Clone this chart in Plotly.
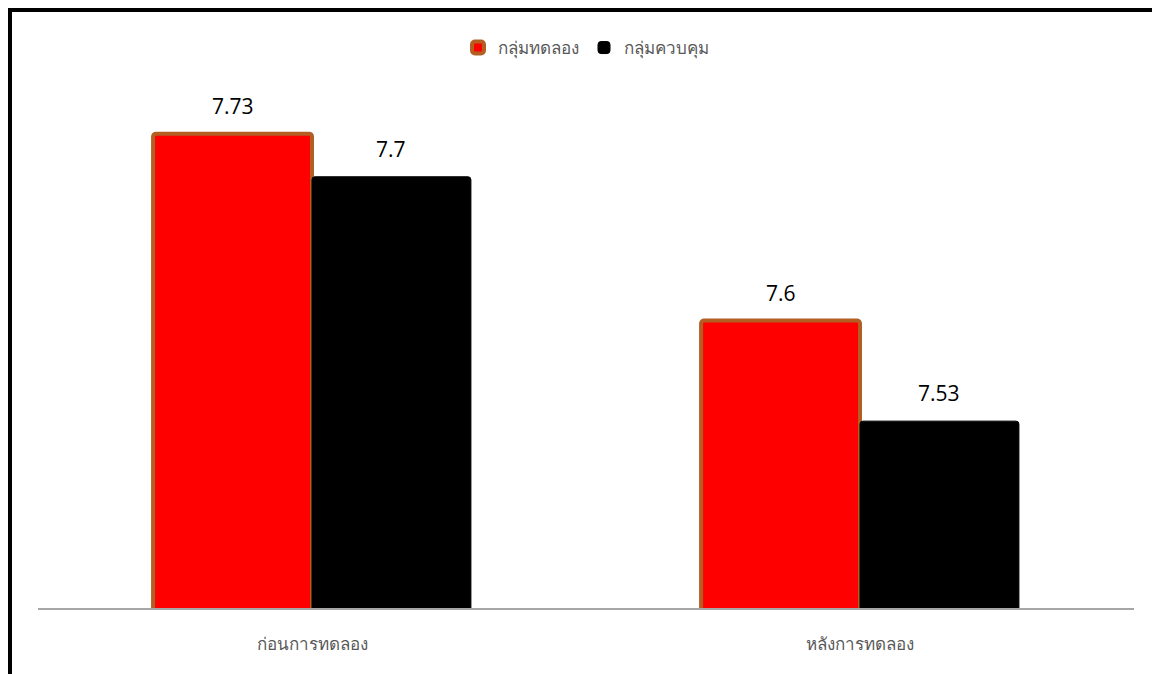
import plotly.graph_objects as go

categories = ["ก่อนการทดลอง", "หลังการทดลอง"]
series_names = ["กลุ่มทดลอง", "กลุ่มควบคุม"]
experimental = [7.73, 7.6]
control = [7.7, 7.53]

W, H = 1152, 674
ml, mr, mt, mb = 38, 18, 33, 66
pw, ph = W - ml - mr, H - mt - mb
bargap = 0.42
cat_px = pw / len(categories)
bar_px = cat_px * (1 - bargap) / 2

fig = go.Figure()
fig.add_trace(go.Bar(
    x=categories, y=experimental, name=series_names[0],
    marker=dict(color="#FF0000", line=dict(color="#B35E22", width=4), cornerradius=3),
))
fig.add_trace(go.Bar(
    x=categories, y=control, name=series_names[1],
    marker=dict(color="#000000", line=dict(color="#000000", width=1), cornerradius=3),
))

annotations = []
for vals, sign in ((experimental, -1), (control, 1)):
    for c, v in zip(categories, vals):
        annotations.append(dict(
            x=c, y=v, xref="x", yref="y", text=f"{v:g}", showarrow=False,
            xshift=sign * bar_px / 2, yshift=12, yanchor="bottom",
            font=dict(size=21, color="#000000", family="Open Sans, Liberation Sans, sans-serif"),
        ))

fig.update_layout(
    width=W, height=H,
    margin=dict(l=ml, r=mr, t=mt, b=mb),
    paper_bgcolor="white", plot_bgcolor="white",
    barmode="group", bargap=bargap, bargroupgap=0,
    font=dict(family="Noto Sans, Open Sans, sans-serif", color="#595959", size=16),
    legend=dict(orientation="h", x=0.5, xanchor="center", y=(H - mb - 48) / ph,
                yanchor="middle", font=dict(size=17, color="#595959"),
                traceorder="normal"),
    xaxis=dict(showline=True, linecolor="#A6A6A6", linewidth=1.5, ticks="",
               ticklabelstandoff=20,
               tickfont=dict(size=17, color="#595959"), showgrid=False),
    yaxis=dict(range=[7.4, 7.8], visible=False, showgrid=False),
    annotations=annotations,
    shapes=[dict(type="rect", xref="paper", yref="paper",
                 x0=(10 - ml) / pw, x1=1.2, y0=-0.3, y1=(H - mb - 10) / ph,
                 line=dict(color="black", width=4), fillcolor="rgba(0,0,0,0)", layer="above")],
)

fig.write_html("out.html")
